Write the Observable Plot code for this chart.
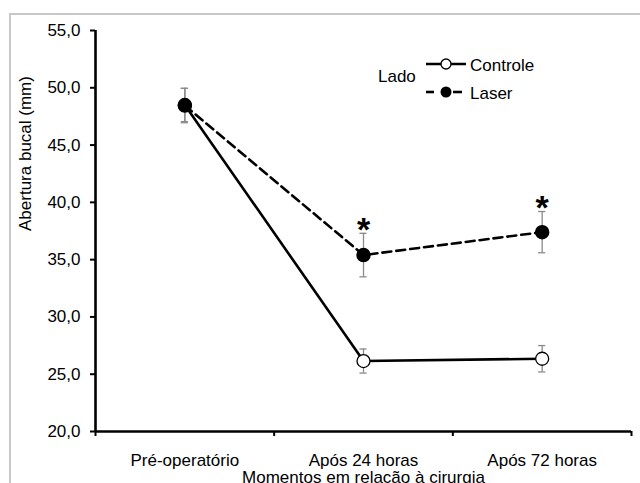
<!DOCTYPE html>
<html>
<head>
<meta charset="utf-8">
<script src="https://cdn.jsdelivr.net/npm/d3@7"></script>
<script src="https://cdn.jsdelivr.net/npm/@observablehq/plot@0.6"></script>
<style>
  html, body { margin: 0; padding: 0; background: white; }
  #wrap { position: relative; width: 640px; height: 483px; overflow: hidden; font-family: "Liberation Sans", Arial, sans-serif; }
  #frame { position: absolute; left: 9px; top: 13px; width: 700px; height: 600px; border-top: 2px solid #c8c8c8; border-left: 2px solid #c8c8c8; pointer-events: none; }
  #legend { position: absolute; left: 0; top: 0; pointer-events: none; }
</style>
</head>
<body>
<div id="wrap"></div>
<script>
// ---- data ----
const moments = ["Pré-operatório", "Após 24 horas", "Após 72 horas"];
const controle = [48.5, 26.15, 26.35];
const controleSE = [1.45, 1.05, 1.15];
const laser = [48.45, 35.4, 37.4];
const laserSE = [1.5, 1.9, 1.8];
const laserSignificant = [false, true, true];
const yTicks = [20, 25, 30, 35, 40, 45, 50, 55];
const xBounds = [0, 1, 2, 3];
const legendTitle = "Lado";
const seriesNames = ["Controle", "Laser"];
const yLabel = "Abertura bucal (mm)";
const xLabel = "Momentos em relação à cirurgia";

const rowsC = moments.map((m, i) => ({moment: m, x: i + 0.5, value: controle[i], se: controleSE[i]}));
const rowsL = moments.map((m, i) => ({moment: m, x: i + 0.5, value: laser[i], se: laserSE[i], sig: laserSignificant[i]}));
const all = rowsC.concat(rowsL);
const fmt = d => d.toFixed(1).replace(".", ",");
const capW = 0.02;
const errColor = "#8a8a8a";

const chart = Plot.plot({
  width: 640,
  height: 483,
  marginLeft: 95,
  marginRight: 9,
  marginTop: 30,
  marginBottom: 52,
  style: {fontFamily: "'Liberation Sans', Arial, sans-serif", fontSize: "17px", color: "black", background: "transparent"},
  x: {type: "linear", domain: [0, 3]},
  y: {domain: [20, 55]},
  marks: [
    Plot.axisY({ticks: yTicks, tickFormat: fmt, tickSize: 5, tickPadding: 10, strokeWidth: 2, fontSize: 17, label: null}),
    Plot.axisX({ticks: xBounds, tickFormat: () => "", tickSize: 5, strokeWidth: 2, label: null}),
    Plot.axisX({ticks: [0.5, 1.5, 2.5], tickFormat: d => moments[Math.floor(d)], tickSize: 0, tickPadding: 22, fontSize: 17, label: null}),
    Plot.ruleX([0], {strokeWidth: 2.6}),
    Plot.ruleY([20], {strokeWidth: 2.6}),
    Plot.text([yLabel], {frameAnchor: "left", dx: -69.5, rotate: -90, fontSize: 17}),
    Plot.text([xLabel], {frameAnchor: "bottom", dy: 39, lineAnchor: "top", fontSize: 17}),
    Plot.line(rowsC, {x: "x", y: "value", stroke: "black", strokeWidth: 2.6}),
    Plot.line(rowsL, {x: "x", y: "value", stroke: "black", strokeWidth: 2.6, strokeDasharray: "9,5"}),
    Plot.ruleX(all, {x: "x", y1: d => d.value - d.se, y2: d => d.value + d.se, stroke: errColor, strokeWidth: 1.3}),
    Plot.ruleY(all, {y: d => d.value + d.se, x1: d => d.x - capW, x2: d => d.x + capW, stroke: errColor, strokeWidth: 1.3}),
    Plot.ruleY(all, {y: d => d.value - d.se, x1: d => d.x - capW, x2: d => d.x + capW, stroke: errColor, strokeWidth: 1.3}),
    Plot.dot(rowsC, {x: "x", y: "value", r: 6.5, fill: "white", stroke: "black", strokeWidth: 1.3}),
    Plot.dot(rowsL, {x: "x", y: "value", r: 6.5, fill: "black", stroke: "black"}),
    Plot.text(rowsL.filter(d => d.sig), {x: "x", y: d => d.value + d.se, text: () => "*", fontSize: 34, fontWeight: "bold", lineAnchor: "middle", dy: -3})
  ]
});

const wrap = document.getElementById("wrap");
wrap.appendChild(chart);
const frame = document.createElement("div");
frame.id = "frame";
wrap.appendChild(frame);

// legend overlay
const ns = "http://www.w3.org/2000/svg";
const lg = document.createElementNS(ns, "svg");
lg.setAttribute("id", "legend");
lg.setAttribute("width", 640);
lg.setAttribute("height", 483);
lg.innerHTML = `
  <g font-family="'Liberation Sans', Arial, sans-serif" font-size="17" fill="black">
    <text x="378" y="76" dominant-baseline="central">${legendTitle}</text>
    <line x1="426" x2="466" y1="64" y2="64" stroke="black" stroke-width="2.6"/>
    <circle cx="446" cy="64" r="5" fill="white" stroke="black" stroke-width="1.3"/>
    <text x="470" y="65" dominant-baseline="central">${seriesNames[0]}</text>
    <line x1="426" x2="434" y1="92" y2="92" stroke="black" stroke-width="2.6"/>
    <line x1="453" x2="462" y1="92" y2="92" stroke="black" stroke-width="2.6"/>
    <circle cx="446" cy="92" r="5.5" fill="black"/>
    <text x="470" y="93" dominant-baseline="central">${seriesNames[1]}</text>
  </g>`;
wrap.appendChild(lg);
</script>
</body>
</html>
